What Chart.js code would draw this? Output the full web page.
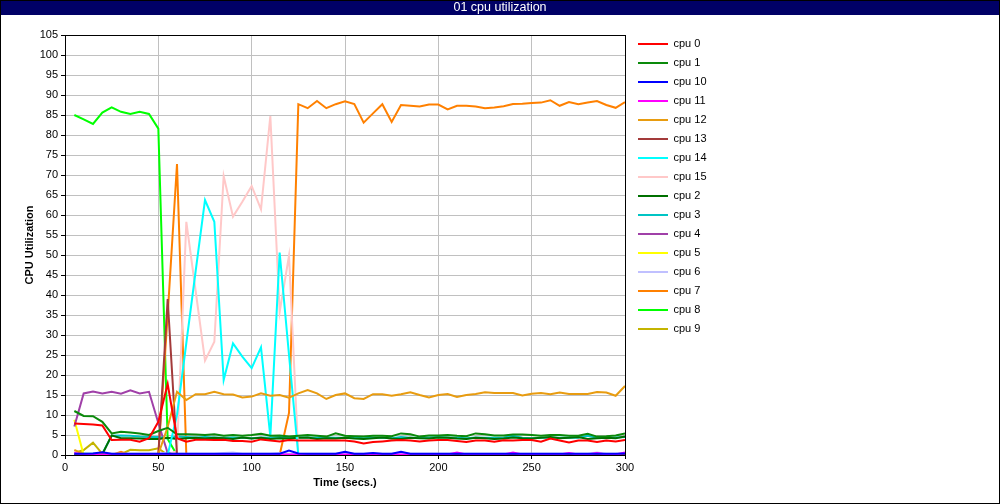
<!DOCTYPE html>
<html>
<head>
<meta charset="utf-8">
<title>01 cpu utilization</title>
<script src="https://cdn.jsdelivr.net/npm/chart.js@4/dist/chart.umd.min.js"></script>
<style>
  html, body { margin: 0; padding: 0; background: #fff; }
  #wrap { width: 1000px; height: 504px; }
</style>
</head>
<body>
<div id="wrap"><canvas id="chart" width="1000" height="504"></canvas></div>
<script>
// sample times (secs.)
const times = [5, 10, 15, 20, 25, 30, 35, 40, 45, 50,
  55, 60, 65, 70, 75, 80, 85, 90, 95, 100,
  105, 110, 115, 120, 125, 130, 135, 140, 145, 150,
  155, 160, 165, 170, 175, 180, 185, 190, 195, 200,
  205, 210, 215, 220, 225, 230, 235, 240, 245, 250,
  255, 260, 265, 270, 275, 280, 285, 290, 295, 300]

const cpu0 = [7.9, 7.75, 7.6, 7.4, 3.75, 3.8, 3.8, 3.3, 4.2, 8.3,
  17.75, 4.2, 3.3, 3.8, 3.8, 3.75, 3.8, 3.5, 3.5, 3.3,
  3.9, 3.6, 3.4, 3.75, 3.6, 3.6, 3.6, 3.6, 3.6, 3.6,
  3.4, 2.9, 3.25, 3.4, 3.6, 3.75, 3.6, 3.4, 3.6, 3.75,
  3.75, 3.5, 3.25, 3.6, 3.6, 3.3, 3.7, 3.6, 3.75, 3.75,
  3.3, 4.1, 3.6, 3.1, 3.6, 3.6, 3.25, 3.6, 3.4, 3.75]
const cpu1 = [11, 9.75, 9.7, 8.3, 5.4, 5.8, 5.6, 5.4, 5.0, 6.0,
  6.8, 5.2, 5.2, 5.1, 5.0, 5.2, 4.8, 5.0, 4.8, 5.0,
  5.3, 4.8, 4.9, 4.6, 4.8, 5.0, 4.8, 4.6, 5.4, 4.8,
  4.7, 4.6, 4.8, 4.8, 4.7, 5.4, 5.2, 4.6, 4.9, 4.9,
  5.0, 4.8, 4.7, 5.4, 5.2, 4.9, 4.9, 5.1, 5.1, 5.0,
  4.8, 5.0, 5.0, 4.8, 4.8, 5.3, 4.6, 4.7, 4.9, 5.4]
const cpu10 = [0.3, 0.3, 0.35, 0.7, 0.3, 0.3, 0.3, 0.3, 0.3, 0.3,
  0.3, 0.3, 0.3, 0.3, 0.3, 0.3, 0.3, 0.3, 0.3, 0.3,
  0.3, 0.3, 0.3, 1.1, 0.4, 0.3, 0.3, 0.3, 0.3, 0.8,
  0.3, 0.3, 0.5, 0.3, 0.3, 0.8, 0.3, 0.3, 0.3, 0.3,
  0.3, 0.3, 0.3, 0.3, 0.3, 0.3, 0.3, 0.3, 0.3, 0.3,
  0.3, 0.3, 0.3, 0.3, 0.3, 0.3, 0.3, 0.3, 0.3, 0.4]
const cpu11 = [0.5, 0.1, 0.1, 0.1, 0.1, 0.1, 0.1, 0.1, 0.1, 0.1,
  0.1, 0.1, 0.1, 0.1, 0.1, 0.1, 0.1, 0.1, 0.1, 0.1,
  0.1, 0.1, 0.1, 0.1, 0.1, 0.1, 0.1, 0.1, 0.1, 0.1,
  0.1, 0.1, 0.1, 0.1, 0.1, 0.1, 0.1, 0.1, 0.1, 0.1,
  0.1, 0.6, 0.1, 0.1, 0.1, 0.1, 0.1, 0.6, 0.1, 0.1,
  0.1, 0.1, 0.1, 0.5, 0.1, 0.1, 0.5, 0.1, 0.1, 0.6]
const cpu12 = [1.3, 0.2, 0.2, 0.2, 0.2, 0.2, 0.2, 0.2, 0.2, 0.2,
  7, 15.8, 13.75, 15.2, 15.2, 15.8, 15.2, 15.1, 14.4, 14.6,
  15.4, 14.8, 15.0, 14.3, 15.4, 16.25, 15.4, 14.0, 15.0, 15.4,
  14.2, 14.0, 15.2, 15.2, 14.8, 15.2, 15.7, 15.0, 14.4, 15.0,
  15.25, 14.5, 15.0, 15.25, 15.7, 15.5, 15.5, 15.5, 14.9, 15.3,
  15.5, 15.2, 15.6, 15.25, 15.25, 15.25, 15.75, 15.6, 14.8, 17.25]
const cpu13 = [0, 0, 0, 0, 0, 0, 0, 0, 0, 0,
  39, 0, 0, 0, 0, 0, 0, 0, 0, 0,
  0, 0, 0, 0, 0, 0, 0, 0, 0, 0,
  0, 0, 0, 0, 0, 0, 0, 0, 0, 0,
  0, 0, 0, 0, 0, 0, 0, 0, 0, 0,
  0, 0, 0, 0, 0, 0, 0, 0, 0, 0]
const cpu14 = [0, 0, 0, 0, 0, 0, 0, 0, 0, 0,
  0, 10, 28, 46, 63.75, 58.3, 18.75, 27.9, 24.6, 21.7,
  26.9, 4.6, 50.6, 25, 0, 0, 0, 0, 0, 0,
  0, 0, 0, 0, 0, 0, 0, 0, 0, 0,
  0, 0, 0, 0, 0, 0, 0, 0, 0, 0,
  0, 0, 0, 0, 0, 0, 0, 0, 0, 0]
const cpu15 = [1.0, 0, 0, 0, 0, 0, 0, 0, 0, 0,
  0, 1, 58.3, 41, 23.6, 28.3, 69.75, 59.6, 63.3, 67.25,
  61.4, 84.75, 35.8, 49.8, 0, 0, 0, 0, 0, 0,
  0, 0, 0, 0, 0, 0, 0, 0, 0, 0,
  0, 0, 0, 0, 0, 0, 0, 0, 0, 0,
  0, 0, 0, 0, 0, 0, 0, 0, 0, 0]
const cpu2 = [0.2, 0, 0, 0.2, 4.9, 4.2, 4.2, 4.1, 4.0, 4.0,
  4.3, 4.0, 4.2, 4.3, 4.1, 4.3, 4.2, 4.0, 4.4, 4.1,
  4.3, 4.0, 4.2, 4.1, 4.3, 4.4, 4.0, 4.2, 4.1, 4.3,
  4.1, 4.0, 4.2, 4.4, 4.1, 4.0, 4.3, 4.2, 4.1, 4.4,
  4.3, 4.1, 4.0, 4.3, 4.2, 4.0, 4.1, 4.4, 4.2, 4.1,
  4.3, 4.5, 4.2, 4.3, 4.5, 4.0, 4.2, 4.3, 4.2, 4.6]
const cpu3 = [0.3, 0.3, 0.3, 0.3, 4.8, 4.9, 4.8, 4.6, 4.5, 4.5,
  4.1, 4.6, 4.5, 4.4, 4.5, 4.4, 4.3, 4.4, 4.3, 4.2,
  4.4, 4.3, 4.5, 4.3, 4.4, 4.4, 4.3, 4.4, 4.3, 4.3,
  4.4, 4.2, 4.4, 4.3, 4.2, 4.5, 4.3, 4.3, 4.4, 4.5,
  4.4, 4.3, 4.2, 4.4, 4.3, 4.3, 4.4, 4.8, 4.3, 4.2,
  4.3, 4.4, 4.3, 4.4, 4.3, 4.8, 4.3, 4.2, 4.4, 4.5]
const cpu4 = [7.1, 15.4, 15.9, 15.4, 15.8, 15.3, 16.2, 15.4, 15.8, 8.0,
  0.5, 0.2, 0, 0, 0, 0, 0, 0, 0, 0,
  0, 0, 0, 0, 0, 0, 0, 0, 0, 0,
  0, 0, 0, 0, 0, 0, 0, 0, 0, 0,
  0, 0, 0, 0, 0, 0, 0, 0, 0, 0,
  0, 0, 0, 0, 0, 0, 0, 0, 0, 0]
const cpu5 = [8.8, 0, 0, 0, 0, 0, 0, 0, 0, 0,
  0, 0, 0, 0, 0, 0, 0, 0, 0, 0,
  0, 0, 0, 0, 0, 0, 0, 0, 0, 0,
  0, 0, 0, 0, 0, 0, 0, 0, 0, 0,
  0, 0, 0, 0, 0, 0, 0, 0, 0, 0,
  0, 0, 0, 0, 0, 0, 0, 0, 0, 0]
const cpu6 = [0.8, 0.3, 0.3, 0.3, 0.3, 0.3, 0.3, 0.3, 0.3, 0.3,
  0.6, 0.3, 0.3, 0.3, 0.3, 0.3, 0.5, 0.6, 0.3, 0.3,
  0.3, 0.3, 0.5, 0.3, 0.3, 0.3, 0.3, 0.3, 0.3, 0.3,
  0.3, 0.3, 0.3, 0.3, 0.3, 0.3, 0.3, 0.3, 0.3, 0.3,
  0.3, 0.3, 0.3, 0.3, 0.3, 0.3, 0.3, 0.3, 0.3, 0.3,
  0.3, 0.3, 0.3, 0.3, 0.3, 0.3, 0.6, 0.3, 0.3, 0.3]
const cpu7 = [0.5, 0, 0, 0, 0, 0.8, 0, 0, 0, 0,
  35, 72.75, 0, 0, 0, 0, 0, 0, 0, 0,
  0, 0, 0, 10.5, 87.7, 86.7, 88.5, 86.7, 87.7, 88.4,
  87.75, 83.1, 85.4, 87.7, 83.25, 87.5, 87.3, 87.1, 87.6, 87.6,
  86.4, 87.3, 87.3, 87.1, 86.7, 86.9, 87.2, 87.75, 87.8, 88.0,
  88.1, 88.7, 87.3, 88.25, 87.7, 88.1, 88.5, 87.5, 86.8, 88.2]
const cpu8 = [85, 83.9, 82.75, 85.6, 86.9, 85.8, 85.25, 85.8, 85.25, 81.6,
  4, 0, 0, 0, 0, 0, 0, 0, 0, 0,
  0, 0, 0, 0, 0, 0, 0, 0, 0, 0,
  0, 0, 0, 0, 0, 0, 0, 0, 0, 0,
  0, 0, 0, 0, 0, 0, 0, 0, 0, 0,
  0, 0, 0, 0, 0, 0, 0, 0, 0, 0]
const cpu9 = [0.5, 1.25, 3.1, 0.3, 0, 0.2, 1.3, 1.2, 1.2, 1.7,
  0, 0, 0, 0, 0, 0, 0, 0, 0, 0,
  0, 0, 0, 0, 0, 0, 0, 0, 0, 0,
  0, 0, 0, 0, 0, 0, 0, 0, 0, 0,
  0, 0, 0, 0, 0, 0, 0, 0, 0, 0,
  0, 0, 0, 0, 0, 0, 0, 0, 0, 0]

const labels = ['cpu 0', 'cpu 1', 'cpu 10', 'cpu 11', 'cpu 12', 'cpu 13', 'cpu 14', 'cpu 15',
  'cpu 2', 'cpu 3', 'cpu 4', 'cpu 5', 'cpu 6', 'cpu 7', 'cpu 8', 'cpu 9']
const values = [cpu0, cpu1, cpu10, cpu11, cpu12, cpu13, cpu14, cpu15,
  cpu2, cpu3, cpu4, cpu5, cpu6, cpu7, cpu8, cpu9]
const colors = ['#ff0000', '#0a8a0a', '#0000ff', '#ff00ff', '#e89c10', '#a33a3a', '#00ffff', '#ffc8c8',
  '#007000', '#00c4c4', '#a040a8', '#ffff00', '#c0c0ff', '#ff8000', '#00ff00', '#c4b400']

Chart.defaults.font.family = '"Liberation Sans", Arial, sans-serif'
Chart.defaults.font.size = 11
Chart.defaults.color = '#000'

// title bar, plot frame, outer border and legend placement
const frame = {
  id: 'frame',
  beforeInit(chart) {
    const fit = chart.legend.fit
    chart.legend.fit = function () {
      fit.call(this)
      this.width = 375
    }
  },
  afterLayout(chart) {
    chart.legend.left = 630
    chart.legend.top = 30.5
  },
  beforeDraw(chart) {
    const {ctx, width, height} = chart
    ctx.save()
    ctx.fillStyle = '#fff'
    ctx.fillRect(0, 0, width, height)
    ctx.fillStyle = '#000066'
    ctx.fillRect(0, 0, width, 15)
    ctx.restore()
  },
  afterDatasetsDraw(chart) {
    const {ctx, chartArea: a} = chart
    ctx.save()
    ctx.strokeStyle = '#000'
    ctx.lineWidth = 1
    ctx.strokeRect(a.left + 0.5, a.top + 0.5, a.width, a.height)
    ctx.restore()
  },
  afterDraw(chart) {
    const {ctx, width, height} = chart
    ctx.save()
    ctx.strokeStyle = '#000'
    ctx.lineWidth = 1
    ctx.strokeRect(0.5, 0.5, width - 1, height - 1)
    ctx.restore()
  }
}

new Chart(document.getElementById('chart').getContext('2d'), {
  type: 'line',
  data: {
    datasets: labels.map((label, k) => ({
      label: label,
      data: values[k].map((v, i) => ({x: times[i], y: v})),
      borderColor: colors[k],
      backgroundColor: colors[k],
      borderWidth: 2,
      pointRadius: 0,
      tension: 0
    }))
  },
  options: {
    responsive: false,
    animation: false,
    events: [],
    layout: {padding: 0},
    scales: {
      x: {
        type: 'linear',
        min: 0,
        max: 300,
        ticks: {stepSize: 50, maxRotation: 0, padding: 2, color: '#000'},
        grid: {color: '#c0c0c0', tickColor: '#000', tickLength: 4},
        border: {display: false},
        title: {display: true, text: 'Time (secs.)', color: '#000', font: {weight: 'bold', size: 11}, padding: {top: 0, bottom: 14}},
        afterFit: scale => { scale.height = 49 }
      },
      y: {
        min: 0,
        max: 105,
        ticks: {stepSize: 5, autoSkip: false, padding: 3, color: '#000'},
        grid: {color: '#c0c0c0', tickColor: '#000', tickLength: 4},
        border: {display: false},
        title: {display: true, text: 'CPU Utilization', color: '#000', font: {weight: 'bold', size: 11}, padding: {top: 23, bottom: 0}},
        afterFit: scale => { scale.width = 65 }
      }
    },
    plugins: {
      title: {
        display: true,
        text: '01 cpu utilization',
        color: '#fff',
        font: {size: 12.5, weight: 'normal', lineHeight: 1.2},
        padding: {top: 0, bottom: 20}
      },
      legend: {
        position: 'right',
        align: 'start',
        fullSize: false,
        labels: {
          usePointStyle: true,
          pointStyle: 'line',
          pointStyleWidth: 30,
          padding: 8,
          color: '#000',
          font: {size: 11}
        }
      },
      tooltip: {enabled: false}
    }
  },
  plugins: [frame]
})
</script>
</body>
</html>
